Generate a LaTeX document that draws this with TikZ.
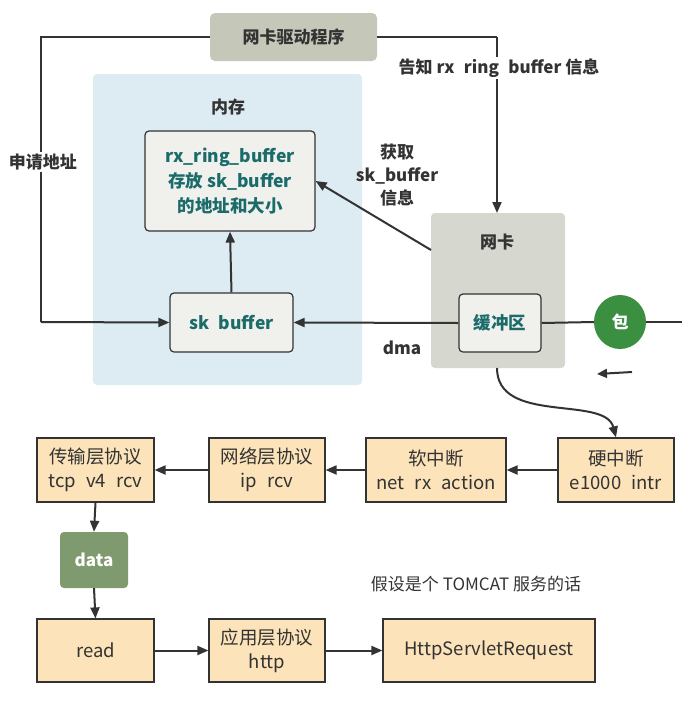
\documentclass[tikz,border=0pt]{standalone}
\usepackage{fontspec}
\setmainfont{Noto Sans CJK SC}
\usetikzlibrary{arrows.meta,shapes.geometric}
\definecolor{txt}{HTML}{333333}
\definecolor{teal2}{HTML}{1B6B6B}
\definecolor{drvfill}{HTML}{C5C8B8}
\definecolor{nicfill}{HTML}{D6D7CF}
\definecolor{memfill}{HTML}{DDEBF3}
\definecolor{inner}{HTML}{F0F0EC}
\definecolor{orng}{HTML}{FCE3B9}
\definecolor{datag}{HTML}{7E9A6E}
\definecolor{pkt}{HTML}{3A9040}
\newcommand\gp{\hspace{0.55em}}
\tikzset{
  conn/.style={draw=txt, line width=2pt, -{Triangle[length=11pt,width=9pt]}},
  plain/.style={draw=txt, line width=2pt},
  lbl/.style={text=txt, font=\fontsize{17}{21}\selectfont\bfseries, align=center},
  innerbox/.style={draw=txt, line width=1.2pt, fill=inner, rounded corners=4pt, align=center, text=teal2, font=\fontsize{17.5}{25}\selectfont\bfseries},
  obox/.style={draw=txt, line width=1.2pt, fill=orng, align=center, text=txt, font=\fontsize{18.5}{24}\selectfont, inner sep=0pt},
}
\begin{document}
\begin{tikzpicture}[x=1pt,y=-1pt]
\useasboundingbox (0,0) rectangle (691,705);
\fill[white] (0,0) rectangle (691,705);
% memory region
\fill[memfill, rounded corners=4pt] (93,74) rectangle (362,385);
\node[lbl] (memlbl) at (228,107) {内存};
% NIC region
\fill[nicfill, rounded corners=4pt] (431,213) rectangle (565,368);
\node[lbl] (niclbl) at (497,242) {网卡};
\coordinate (nictop) at (497,213);
\coordinate (nicbot) at (497,368);
\coordinate (nicleft) at (431,250);
% driver
\node[fill=drvfill, rounded corners=5pt, minimum width=167pt, minimum height=48pt, lbl] (drv) at (293.5,37) {网卡驱动程序};
% inner boxes
\node[innerbox, minimum width=170pt, minimum height=100pt] (rx) at (230,181) {rx\_ring\_buffer\\存放 sk\_buffer\\的地址和大小};
\node[innerbox, minimum width=123pt, minimum height=59pt] (sk) at (231.5,322.5) {sk\gp buffer};
\node[innerbox, minimum width=82pt, minimum height=58pt] (buf) at (500,323) {缓冲区};
% packet
\node[ellipse, fill=pkt, minimum width=52pt, minimum height=54pt, text=white, font=\fontsize{17}{20}\selectfont\bfseries, inner sep=0pt] (pk) at (620,322) {包};
\coordinate (rightend) at (682,322);
\coordinate (lefttop) at (41,37);
\coordinate (leftbot) at (41,322);
\coordinate (rtop) at (497,37);
% connectors top
\draw[plain] (drv.west) -- (lefttop) -- (leftbot);
\draw[conn] (leftbot) -- (sk.west);
\draw[plain] (drv.east) -- (rtop);
\draw[conn] (rtop) -- (nictop);
\node[lbl, fill=white, inner sep=2pt] (l1) at (43,162) {申请地址};
\node[lbl, fill=white, inner sep=2pt] (l2) at (499,68) {告知 rx\gp ring\gp buffer 信息};
\draw[conn] (sk.north) -- (rx.south);
\draw[conn] (nicleft) -- (rx.east |- 0,181);
\node[lbl, font=\fontsize{17}{23}\selectfont\bfseries] (l3) at (397,175) {获取\\sk\_buffer\\信息};
\draw[plain] (rightend) -- (pk.east);
\draw[plain] (pk.west) -- (buf.east);
\draw[conn] (buf.west) -- (sk.east);
\node[lbl] (dma) at (402,348) {dma};
\coordinate (sa1) at (632,372);
\coordinate (sa2) at (597,374);
\draw[draw=txt, line width=2pt, -{Triangle[length=10pt,width=9pt]}] (sa1) -- (sa2);
% bottom rows
\node[obox, minimum width=117pt, minimum height=64pt] (tcp) at (95.5,470) {传输层协议\\tcp\gp v4\gp rcv};
\node[obox, minimum width=116pt, minimum height=64pt] (ip) at (267,470) {网络层协议\\ip\gp rcv};
\node[obox, minimum width=140pt, minimum height=64pt] (soft) at (436,470) {软中断\\net\gp rx\gp action};
\node[obox, minimum width=116pt, minimum height=64pt] (hard) at (616,470) {硬中断\\e1000\gp intr};
\node[fill=datag, rounded corners=4pt, minimum width=68pt, minimum height=56pt, text=white, font=\fontsize{17}{20}\selectfont\bfseries] (data) at (94,560) {data};
\node[obox, minimum width=117pt, minimum height=63pt] (read) at (95.5,650.5) {read};
\node[obox, minimum width=116pt, minimum height=63pt] (http) at (267,650.5) {应用层协议\\http};
\node[obox, minimum width=212pt, minimum height=63pt] (req) at (489,650.5) {HttpServletRequest};
\node[text=txt, font=\fontsize{17}{20}\selectfont] (note) at (476,584) {假设是个 TOMCAT 服务的话};
\draw[conn] (nicbot) .. controls (497,425) and (605,395) .. (hard.north);
\draw[conn] (hard.west) -- (soft.east);
\draw[conn] (soft.west) -- (ip.east);
\draw[conn] (ip.west) -- (tcp.east);
\draw[conn] (tcp.south) -- (data.north);
\draw[conn] (data.south) -- (read.north);
\draw[conn] (read.east) -- (http.west);
\draw[conn] (http.east) -- (req.west);
\end{tikzpicture}
\end{document}
